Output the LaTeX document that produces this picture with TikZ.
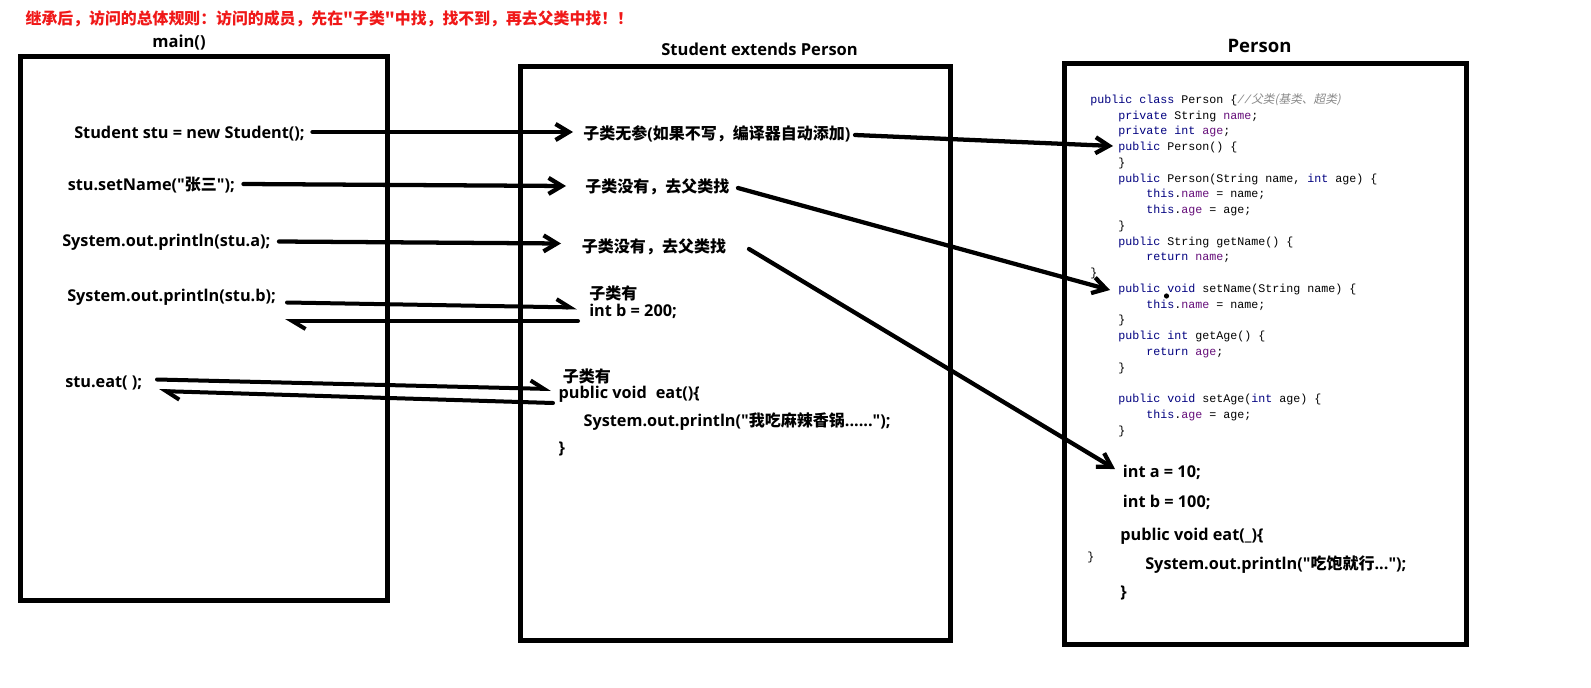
\documentclass[tikz,border=0pt]{standalone}
\usepackage{fontspec}
\setmainfont{Open Sans}
\setmonofont{Liberation Mono}
\newfontfamily\cjk{Noto Sans CJK SC}[Scale=0.984]
\newfontfamily\cjkc{Noto Sans CJK SC}[FakeSlant=0.2]
\usetikzlibrary{arrows.meta}
\definecolor{kwc}{HTML}{000080}
\definecolor{fdc}{HTML}{660E7A}
\definecolor{cmc}{HTML}{8A8A8A}
\definecolor{redt}{HTML}{F01818}
\newcommand\jk[1]{\textcolor{kwc}{#1}}
\newcommand\jf[1]{\textcolor{fdc}{#1}}
\newcommand\q{\textquotedbl}
\tikzset{
  frame/.style={line width=3.75pt},
  lbl/.style={anchor=west, inner sep=0pt, font=\bfseries\fontsize{12.2}{15}\selectfont, text height=9.3pt, text depth=0pt},
  head/.style={anchor=center, inner sep=0pt, font=\bfseries\fontsize{12.4}{15}\selectfont, text height=9.3pt, text depth=0pt},
  code/.style={anchor=west, inner sep=0pt, font=\ttfamily\fontsize{8.75}{10}\selectfont, text height=6pt, text depth=0pt},
  arr/.style={line width=3.2pt, line cap=round, -{Straight Barb[length=10pt,width=12pt]}},
  harp/.style={line width=3pt, line cap=round, -{Straight Barb[length=10pt,width=12pt,harpoon]}},
}
\begin{document}
\begin{tikzpicture}[x=0.75pt,y=-0.75pt]
\useasboundingbox[fill=white] (0,0) rectangle (1591,688);
% boxes
\draw[frame] (20.5,57) rectangle (387.5,600.5);
\draw[frame] (520.5,67) rectangle (950.5,640.5);
\draw[frame] (1064,63.5) rectangle (1466,644);
% title and headings
\node[anchor=west, inner sep=0pt, text=redt, font=\cjk\bfseries\fontsize{12.1}{14}\selectfont, text height=8.6pt, text depth=0pt] (title) at (25.4,18.5) {继承后，访问的总体规则：访问的成员，先在\q 子类\q 中找，找不到，再去父类中找！！};
\node[head] (hmain) at (179,41) {main()};
\node[head] (hstu) at (759.6,49) {Student extends Person};
\node[head, font=\bfseries\fontsize{13.9}{16}\selectfont] (hper) at (1259.5,46.5) {Person};
% main texts
\node[lbl] (m1) at (74,132) {Student stu = new Student();};
\node[lbl] (m2) at (67.5,184) {stu.setName(\q{\cjk 张三}\q);};
\node[lbl] (m3) at (62,240) {System.out.println(stu.a);};
\node[lbl] (m4) at (67,295.5) {System.out.println(stu.b);};
\node[lbl] (m5) at (65,381.5) {stu.eat( );};
% student texts
\node[lbl] (s1) at (583,133.3) {{\cjk 子类无参}({\cjk 如果不写，编译器自动添加})};
\node[lbl] (s2) at (585,186) {\cjk 子类没有，去父类找};
\node[lbl] (s3) at (581.7,246.7) {\cjk 子类没有，去父类找};
\node[lbl] (s4) at (589,293.3) {\cjk 子类有};
\node[lbl] (s5) at (589,310.7) {int b = 200;};
\node[lbl] (s6) at (562.7,376.7) {\cjk 子类有};
\node[lbl] (s7) at (558.3,392.7) {public void\hspace{0.55em}eat()\{};
\node[lbl] (s8) at (583.3,420) {System.out.println(\q{\cjk 我吃麻辣香锅}......\q);};
\node[lbl] (s9) at (558.3,447.3) {\}};
% person code
\node[code] (c1) at (1090,99.3) {\jk{public} \jk{class} Person \{\textcolor{cmc}{\itshape//{\cjkc 父类(基类、超类)}}};
\node[code] (c2) at (1118,115.05) {\jk{private} String \jf{name};};
\node[code] (c3) at (1118,130.8) {\jk{private} \jk{int} \jf{age};};
\node[code] (c4) at (1118,146.55) {\jk{public} Person() \{};
\node[code] (c5) at (1118,162.3) {\}};
\node[code] (c6) at (1118,178.05) {\jk{public} Person(String name, \jk{int} age) \{};
\node[code] (c7) at (1146,193.8) {\jk{this}.\jf{name} = name;};
\node[code] (c8) at (1146,209.55) {\jk{this}.\jf{age} = age;};
\node[code] (c9) at (1118,225.3) {\}};
\node[code] (c10) at (1118,241.05) {\jk{public} String getName() \{};
\node[code] (c11) at (1146,256.8) {\jk{return} \jf{name};};
\node[code] (c12) at (1090,272.55) {\}};
\node[code] (c13) at (1118,288.3) {\jk{public} \jk{void} setName(String name) \{};
\node[code] (c14) at (1146,304.05) {\jk{this}.\jf{name} = name;};
\node[code] (c15) at (1118,319.8) {\}};
\node[code] (c16) at (1118,335.55) {\jk{public} \jk{int} getAge() \{};
\node[code] (c17) at (1146,351.3) {\jk{return} \jf{age};};
\node[code] (c18) at (1118,367.05) {\}};
\node[code] (c20) at (1118,398.55) {\jk{public} \jk{void} setAge(\jk{int} age) \{};
\node[code] (c21) at (1146,414.3) {\jk{this}.\jf{age} = age;};
\node[code] (c22) at (1118,430.05) {\}};
\node[code] (c23) at (1087,556) {\}};
\fill (1166.5,296) circle[radius=2.6];
% person bold texts
\node[lbl] (p1) at (1122.7,471.7) {int a = 10;};
\node[lbl] (p2) at (1122.7,501.7) {int b = 100;};
\node[lbl] (p3) at (1120,534) {public void eat(\_)\{};
\node[lbl] (p4) at (1145,563.3) {System.out.println(\q{\cjk 吃饱就行}...\q);};
\node[lbl] (p5) at (1120,591.7) {\}};
% arrow end points
\coordinate (a1s) at (312.5,132); \coordinate (a1e) at (573,132);
\coordinate (a2s) at (243.5,184); \coordinate (a2e) at (566,186);
\coordinate (a3s) at (279,241.5); \coordinate (a3e) at (561,243.5);
\coordinate (a4s) at (287,302.5); \coordinate (a4e) at (577,307.5);
\coordinate (b4s) at (578,321); \coordinate (b4e) at (285,321);
\coordinate (a5s) at (157,379.5); \coordinate (a5e) at (551,389);
\coordinate (b5s) at (553,403); \coordinate (b5e) at (159,391);
\coordinate (a6s) at (855,135); \coordinate (a6e) at (1113,146);
\coordinate (a7s) at (738,188); \coordinate (a7e) at (1110,290);
\coordinate (a8s) at (749,249); \coordinate (a8e) at (1115,469);
\draw[arr] (a1s) -- (a1e);
\draw[arr] (a2s) -- (a2e);
\draw[arr] (a3s) -- (a3e);
\draw[harp] (a4s) -- (a4e);
\draw[harp] (b4s) -- (b4e);
\draw[harp] (a5s) -- (a5e);
\draw[harp] (b5s) -- (b5e);
\draw[arr] (a6s) -- (a6e);
\draw[arr] (a7s) -- (a7e);
\draw[arr] (a8s) -- (a8e);
\end{tikzpicture}
\end{document}
